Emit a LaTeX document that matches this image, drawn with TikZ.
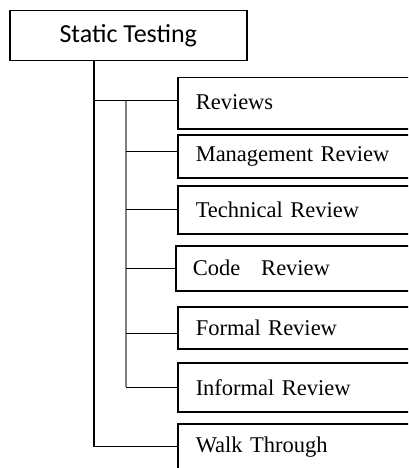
\documentclass[tikz,border=0pt]{standalone}
\usepackage{fontspec}
\setmainfont{Liberation Serif}
\newfontfamily\calibrifont{Carlito}
\begin{document}
\begin{tikzpicture}[x=1pt,y={(0pt,-1pt)},
  box/.style={draw, line width=1.5pt, anchor=north west, inner xsep=18pt, inner ysep=0pt,
    text width=207pt, align=left, font=\fontsize{22.5}{25}\selectfont},
  topbox/.style={draw, line width=1.5pt, anchor=north west, inner sep=0pt,
    minimum width=237pt, minimum height=50pt, font=\calibrifont\fontsize{26}{29}\selectfont},
  link/.style={line width=1.3pt, black},
  sublink/.style={line width=1.8pt, black!50}]
\clip (0,0) rectangle (408,468);
\node[topbox] (st) at (9,10) {Static Testing};
\node[box, minimum height=51pt] (rev) at (177,77) {\raisebox{3pt}{Reviews}};
\node[box, minimum height=43pt] (mgmt) at (177,134) {Management Review};
\node[box, minimum height=48pt] (tech) at (177,185) {Technical Review};
\node[box, minimum height=45pt, inner xsep=17pt] (code) at (175,245) {Code\hspace{0.6em} Review};
\node[box, minimum height=42pt] (formal) at (177,306) {Formal Review};
\node[box, minimum height=49pt] (informal) at (177,362) {Informal Review};
\node[box, minimum height=46pt] (walk) at (177,423) {Walk Through};
\coordinate (trunk) at ([xshift=85pt]st.south west);
\coordinate (branch) at ([xshift=-51pt,yshift=2.5pt]rev.west);
% main trunk
\draw[link] (trunk) |- (walk.west);
\draw[link] (trunk |- branch) -- ([yshift=2.5pt]rev.west);
% secondary trunk
\draw[sublink] (branch) -- (branch |- informal.west);
\draw[link] ([yshift=4.5pt]branch |- mgmt.west) -- ([yshift=4.5pt]mgmt.west);
\draw[link] (branch |- tech.west) -- (tech.west);
\draw[link] (branch |- code.west) -- (code.west);
\draw[link] ([yshift=-6pt]branch |- formal.west) -- ([yshift=-6pt]formal.west);
\draw[link] (branch |- informal.west) -- (informal.west);
\end{tikzpicture}
\end{document}
